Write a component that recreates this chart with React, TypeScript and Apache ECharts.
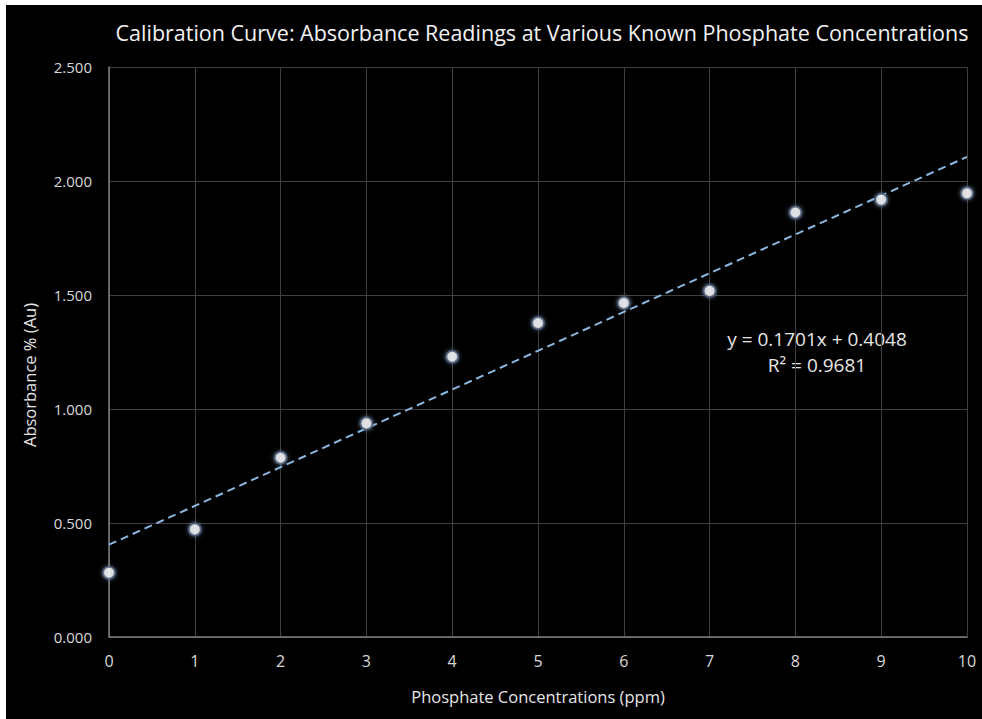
import React, { useEffect, useRef } from "react";
import * as echarts from "echarts";

const concentrations = [0, 1, 2, 3, 4, 5, 6, 7, 8, 9, 10];
const absorbance = [0.282, 0.472, 0.786, 0.937, 1.229, 1.377, 1.465, 1.518, 1.862, 1.918, 1.946];
const slope = 0.1701;
const intercept = 0.4048;
const equationLines = ["y = 0.1701x + 0.4048", "R² = 0.9681"];
const titleText = "Calibration Curve: Absorbance Readings at Various Known Phosphate Concentrations";
const xAxisName = "Phosphate Concentrations (ppm)";
const yAxisName = "Absorbance % (Au)";

const FONT = "'Open Sans', 'Noto Sans', sans-serif";

export default function App() {
  const ref = useRef<HTMLDivElement>(null);
  useEffect(() => {
    document.body.style.margin = "0";
    document.body.style.background = "#ffffff";
    const chart = echarts.init(ref.current!, null, { renderer: "svg" });
    const xMin = concentrations[0];
    const xMax = concentrations[concentrations.length - 1];
    const trend = [
      [xMin, intercept + slope * xMin],
      [xMax, intercept + slope * xMax],
    ];
    chart.setOption({
      animation: false,
      backgroundColor: "#000000",
      textStyle: { fontFamily: FONT },
      title: {
        text: titleText,
        left: 531,
        top: 11,
        textAlign: "center",
        textStyle: { color: "#f2f2f2", fontSize: 21.5, fontWeight: "normal", fontFamily: FONT },
      },
      grid: { left: 103, right: 15, top: 62, bottom: 82, containLabel: false },
      xAxis: {
        type: "value",
        min: 0,
        max: 10,
        interval: 1,
        name: xAxisName,
        nameLocation: "middle",
        nameGap: 51,
        nameTextStyle: { color: "#e6e6e6", fontSize: 16.5, fontFamily: FONT },
        axisLine: { show: true, onZero: false, lineStyle: { color: "#7f7f7f", width: 1.5 } },
        axisTick: { show: false },
        axisLabel: { color: "#d9d9d9", fontSize: 16, margin: 16, fontFamily: FONT },
        splitLine: { show: true, lineStyle: { color: "#3f3f3f", width: 1 } },
      },
      yAxis: {
        type: "value",
        min: 0,
        max: 2.5,
        interval: 0.5,
        axisLine: { show: true, lineStyle: { color: "#7f7f7f", width: 1.5 } },
        axisTick: { show: false },
        axisLabel: {
          color: "#d9d9d9",
          fontSize: 15,
          margin: 17,
          fontFamily: FONT,
          formatter: (v: number) => v.toFixed(3),
        },
        splitLine: { show: true, lineStyle: { color: "#3f3f3f", width: 1 } },
      },
      graphic: [
        {
          type: "text",
          x: 23,
          y: 370,
          rotation: Math.PI / 2,
          style: {
            text: yAxisName,
            fill: "#e6e6e6",
            font: `16.5px ${FONT}`,
            align: "center",
            verticalAlign: "middle",
          },
        },
        {
          type: "text",
          x: 811,
          y: 334,
          style: {
            text: equationLines[0],
            fill: "#e6e6e6",
            font: `19px ${FONT}`,
            align: "center",
            verticalAlign: "middle",
          },
        },
        {
          type: "text",
          x: 811,
          y: 360,
          style: {
            text: equationLines[1],
            fill: "#e6e6e6",
            font: `19px ${FONT}`,
            align: "center",
            verticalAlign: "middle",
          },
        },
      ],
      series: [
        {
          type: "line",
          data: trend,
          showSymbol: false,
          symbol: "none",
          lineStyle: { color: "#8cb8e0", width: 2, type: [8, 5] },
          z: 2,
          silent: true,
        },
        {
          type: "scatter",
          data: concentrations.map((x, i) => [x, absorbance[i]]),
          symbol: "circle",
          symbolSize: 12,
          itemStyle: {
            color: "#ffffff",
            borderColor: "#4a5a72",
            borderWidth: 2,
            shadowColor: "rgba(120,150,190,0.7)",
            shadowBlur: 4,
          },
          z: 3,
        },
      ],
    });
    return () => chart.dispose();
  }, []);
  return (
    <div
      ref={ref}
      style={{ position: "absolute", left: 6, top: 5, width: 976, height: 714, background: "#000" }}
    />
  );
}
